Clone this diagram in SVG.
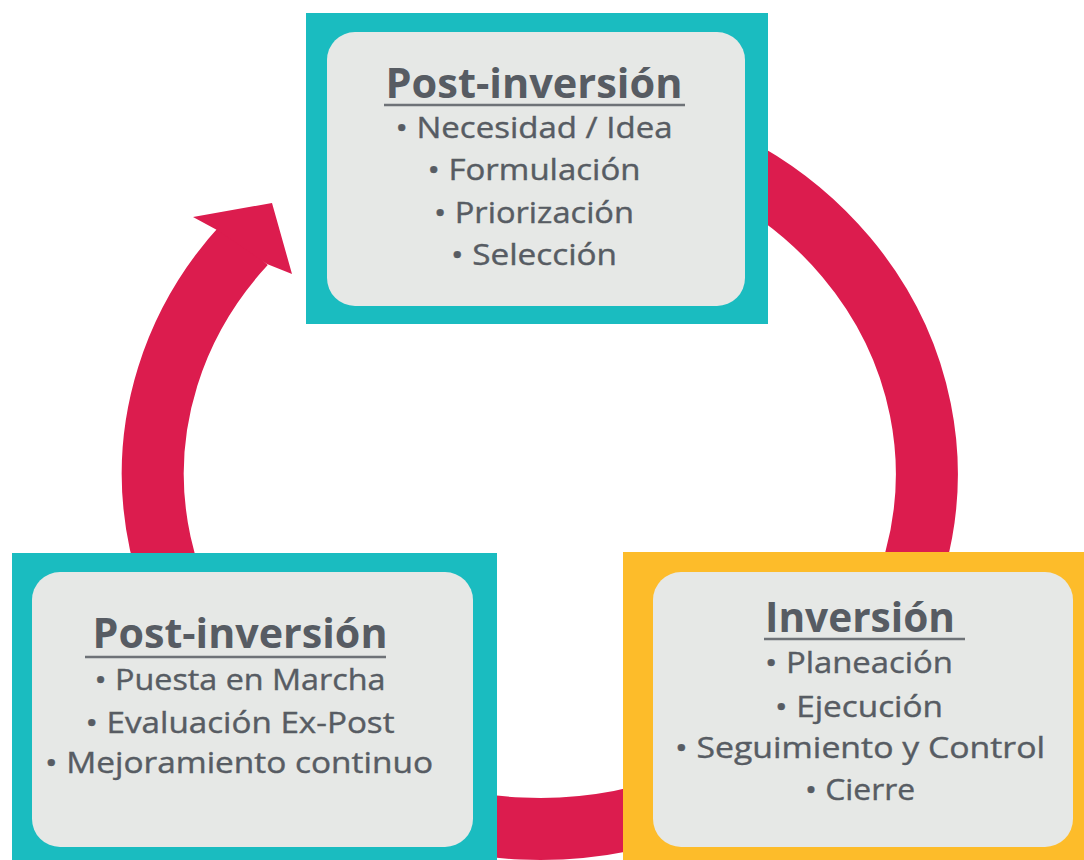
<svg xmlns="http://www.w3.org/2000/svg" width="1084" height="860" viewBox="0 0 1084 860">
<defs>
<style>
.outer-teal{fill:#1ABCC0}
.outer-yellow{fill:#FDBC2A}
.inner{fill:#E6E8E6}
.title{font-family:"Open Sans","Noto Sans","Liberation Sans",sans-serif;font-weight:700;font-size:42px;fill:#575C63;text-anchor:middle}
.item{font-family:"Open Sans","Noto Sans","Liberation Sans",sans-serif;font-weight:500;font-size:30px;fill:#575C63;stroke:#575C63;stroke-width:0.4;text-anchor:middle}
.ul{stroke:#6E7277;stroke-width:2.5}
.ring{fill:none;stroke:#DC1C4E;stroke-width:62}
.head{fill:#DC1C4E}
</style>
</defs>
<rect width="1084" height="860" fill="#FFFFFF"/>
<g id="connectors">
<path class="ring" d="M 545 119 A 387 355 0 1 1 245 244"/>
<polygon class="head" points="193,217 272,203 292,274 267,264 217,230"/>
</g>
<g id="node-top">
<rect class="outer-teal" x="306" y="13" width="462" height="311"/>
<rect class="inner" x="327" y="32" width="418" height="274" rx="28"/>
<text class="title" x="534" y="98" textLength="297" lengthAdjust="spacingAndGlyphs">Post-inversión</text>
<line class="ul" x1="384" y1="105" x2="685" y2="105"/>
<text class="item" x="534" y="138" textLength="277" lengthAdjust="spacingAndGlyphs">• Necesidad / Idea</text>
<text class="item" x="534" y="180" textLength="213" lengthAdjust="spacingAndGlyphs">• Formulación</text>
<text class="item" x="534" y="223" textLength="200" lengthAdjust="spacingAndGlyphs">• Priorización</text>
<text class="item" x="534" y="265" textLength="166" lengthAdjust="spacingAndGlyphs">• Selección</text>
</g>
<g id="node-bottom-left">
<rect class="outer-teal" x="12" y="553" width="485" height="320"/>
<rect class="inner" x="32" y="572" width="441" height="275" rx="28"/>
<text class="title" x="240" y="648" textLength="295" lengthAdjust="spacingAndGlyphs">Post-inversión</text>
<line class="ul" x1="85" y1="657" x2="386" y2="657"/>
<text class="item" x="240" y="690" textLength="291" lengthAdjust="spacingAndGlyphs">• Puesta en Marcha</text>
<text class="item" x="240" y="733" textLength="309" lengthAdjust="spacingAndGlyphs">• Evaluación Ex-Post</text>
<text class="item" x="239" y="773" textLength="388" lengthAdjust="spacingAndGlyphs">• Mejoramiento continuo</text>
</g>
<g id="node-bottom-right">
<rect class="outer-yellow" x="623" y="552" width="470" height="320"/>
<rect class="inner" x="653" y="572" width="420" height="275" rx="28"/>
<text class="title" x="860" y="632" textLength="190" lengthAdjust="spacingAndGlyphs">Inversión</text>
<line class="ul" x1="764" y1="639" x2="965" y2="639"/>
<text class="item" x="859" y="673" textLength="188" lengthAdjust="spacingAndGlyphs">• Planeación</text>
<text class="item" x="859" y="717" textLength="168" lengthAdjust="spacingAndGlyphs">• Ejecución</text>
<text class="item" x="860" y="758" textLength="370" lengthAdjust="spacingAndGlyphs">• Seguimiento y Control</text>
<text class="item" x="860" y="800" textLength="110" lengthAdjust="spacingAndGlyphs">• Cierre</text>
</g>
</svg>
